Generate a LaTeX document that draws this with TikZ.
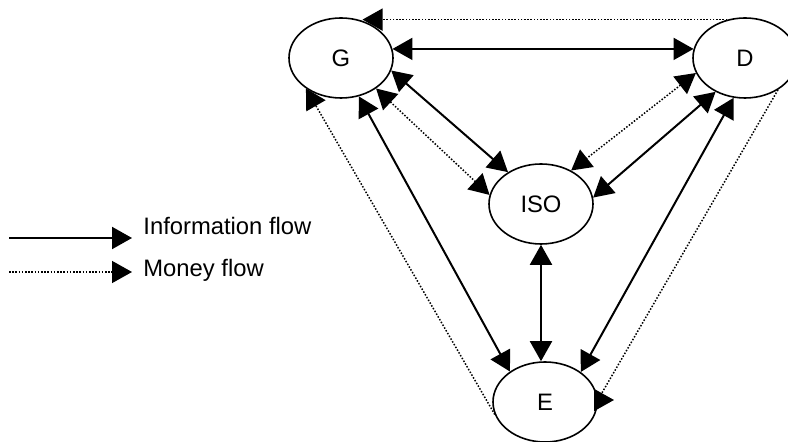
\documentclass[tikz,border=0pt]{standalone}
\usepackage{fontspec}
\setmainfont{Liberation Sans}
\usetikzlibrary{arrows.meta,shapes.geometric}
\newcommand{\tipl}{10pt}
\newcommand{\tipw}{11pt}
\newcommand{\txt}{\fontsize{11.9}{14}\selectfont}

\begin{document}
\begin{tikzpicture}[
      x=0.5pt, y=-0.5pt, %one unit is one pixel of the picture
      >={Triangle[length=\tipl,width=\tipw]},
      actor/.style={ellipse, draw, line width=0.8pt, minimum width=52pt, minimum height=40pt, inner sep=0pt, font=\txt},
      info/.style={line width=1pt},
      money/.style={line width=0.75pt, dash pattern=on 0.75pt off 0.85pt},
      legend/.style={anchor=base west, inner sep=0pt, font=\txt}
    ]
    \clip (0,0) rectangle (788,442);
    %The four actors
    \node[actor] (g) at (341,58) {G};
    \node[actor] (d) at (745,58) {D};
    \node[actor] (iso) at (541,204) {ISO};
    \node[actor] (e) at (545,402) {E};
    % Information flow
    \draw[info,<->] (g.10) -- (d.170);
    \draw[info,<->] (g.-14) -- (iso.136);
    \draw[info,<->] (d.229) -- (iso.7);
    \draw[info,<->] (d.254) -- (e.40);
    \draw[info,<->] (g.-65) -- (e.139);
    \draw[info,<->] (iso.south) -- (iso.south |- e.north);
    % Money flow
    \coordinate (eout) at (614,400);
    \draw[money,->] (d.115) -- (d.115 -| g.60);
    \draw[money,<->] (g.-41) -- (iso.170);
    \draw[money,<->] (d.197) -- (iso.48);
    \draw[money,->] (e.194) -- (g.221);
    \draw[money,->] (d.-44) -- (eout -| e.east) -- (eout);
    % Legend
    \coordinate (infoStart) at (9,238);
    \coordinate (infoEnd) at (132,238);
    \coordinate (moneyStart) at (9,272);
    \coordinate (moneyEnd) at (132,272);
    \draw[info,->] (infoStart) -- (infoEnd);
    \draw[money,->] (moneyStart) -- (moneyEnd);
    \node[legend] (infoText) at (143,235) {Information flow};
    \node[legend] (moneyText) at (143,277) {Money flow};
\end{tikzpicture}
\end{document}
